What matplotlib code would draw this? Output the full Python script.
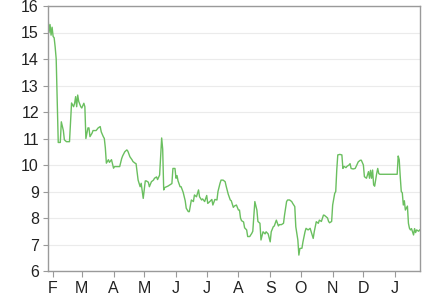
import matplotlib
matplotlib.use("Agg")
import matplotlib.pyplot as plt
import matplotlib.dates as mdates
import numpy as np
import pandas as pd

# days relative to 1 Feb
day_offsets = [
    -5, -4, -3, -2, -1, 0, 1, 2, 3, 4, 5, 7, 8, 10, 11, 13, 16, 18, 20, 21,
    22, 23, 24, 25, 27, 28, 30, 31, 32, 34, 35, 36, 38, 39, 42, 44, 46, 47, 49, 50,
    51, 52, 54, 55, 57, 59, 60, 65, 67, 68, 70, 72, 73, 75, 77, 78, 80, 81, 83, 85,
    86, 88, 90, 91, 93, 94, 96, 98, 99, 101, 102, 104, 106, 107, 108, 109, 112, 114, 116, 117,
    119, 120, 121, 122, 124, 125, 127, 129, 130, 132, 133, 135, 137, 138, 140, 142, 143, 145, 146, 148,
    150, 151, 153, 155, 156, 158, 160, 161, 163, 164, 166, 168, 169, 171, 173, 174, 176, 177, 179, 181,
    182, 183, 184, 186, 187, 189, 190, 192, 194, 195, 197, 199, 200, 202, 203, 205, 207, 208, 210, 212,
    213, 215, 216, 218, 220, 221, 223, 225, 226, 228, 229, 231, 233, 234, 236, 237, 239, 240, 241, 243,
    244, 246, 247, 249, 251, 252, 254, 255, 257, 259, 260, 262, 264, 265, 268, 269, 270, 272, 273, 275,
    276, 277, 278, 280, 282, 283, 284, 286, 287, 289, 290, 291, 293, 295, 296, 298, 300, 301, 303, 304,
    306, 308, 309, 310, 311, 312, 313, 314, 316, 317, 318, 319, 336, 337, 338, 339, 340, 341, 342, 343,
    344, 346, 347, 348, 349, 350, 352, 353, 354, 355, 357, 358,
]
values = [
    15.6, 15.0, 15.3, 14.9, 15.2, 14.85, 14.8, 14.45, 14.0, 12.4, 10.85, 10.85, 11.63, 11.3, 10.95, 10.88, 10.88, 12.34, 12.2, 12.33,
    12.58, 12.2, 12.64, 12.4, 12.2, 12.15, 12.33, 12.2, 11.0, 11.4, 11.4, 11.07, 11.2, 11.3, 11.3, 11.4, 11.45, 11.25, 11.07, 11.0,
    10.64, 10.07, 10.2, 10.1, 10.2, 9.88, 9.94, 9.94, 10.25, 10.35, 10.5, 10.57, 10.52, 10.31, 10.2, 10.13, 10.07, 10.05, 9.43, 9.18,
    9.31, 8.74, 9.4, 9.4, 9.35, 9.18, 9.37, 9.43, 9.5, 9.55, 9.45, 9.62, 11.02, 10.6, 9.06, 9.15, 9.2, 9.25, 9.3, 9.87,
    9.87, 9.5, 9.6, 9.4, 9.18, 9.18, 8.97, 8.65, 8.37, 8.24, 8.24, 8.68, 8.62, 8.87, 8.8, 9.06, 8.8, 8.68, 8.72, 8.62,
    8.85, 8.55, 8.62, 8.7, 8.49, 8.7, 8.68, 9.0, 9.31, 9.43, 9.43, 9.37, 9.2, 8.9, 8.68, 8.65, 8.4, 8.45, 8.49, 8.3,
    8.3, 8.0, 7.9, 7.85, 7.63, 7.55, 7.3, 7.3, 7.42, 7.5, 8.62, 8.3, 7.87, 7.8, 7.17, 7.48, 7.4, 7.48, 7.4, 7.1,
    7.48, 7.67, 7.7, 7.92, 7.7, 7.75, 7.75, 7.8, 8.11, 8.62, 8.68, 8.68, 8.62, 8.55, 8.43, 7.67, 7.17, 6.6, 6.85, 6.86,
    7.1, 7.48, 7.61, 7.55, 7.61, 7.48, 7.23, 7.48, 7.86, 7.8, 7.92, 7.87, 8.11, 8.1, 8.0, 7.87, 7.82, 7.87, 8.49, 8.93,
    9.0, 9.81, 10.38, 10.4, 10.38, 9.87, 9.95, 9.9, 9.95, 10.0, 10.05, 9.87, 9.85, 9.87, 9.95, 10.12, 10.18, 10.18, 10.0, 9.56,
    9.5, 9.75, 9.5, 9.8, 9.5, 9.81, 9.25, 9.2, 9.68, 9.87, 9.68, 9.65, 9.65, 10.34, 10.2, 9.56, 9.0, 8.95, 8.49, 8.65,
    8.3, 8.45, 7.8, 7.61, 7.55, 7.6, 7.36, 7.6, 7.45, 7.55, 7.5, 7.55,
]
y_ticks = [6, 7, 8, 9, 10, 11, 12, 13, 14, 15, 16]

dates = pd.Timestamp("2013-02-01") + pd.to_timedelta(day_offsets, unit="D")

plt.rcParams["font.family"] = ["Liberation Sans", "DejaVu Sans"]

fig = plt.figure(figsize=(4.33, 2.94), dpi=100)
ax = fig.add_axes([48 / 433, 23 / 294, 371.7 / 433, 265 / 294])

ax.plot(dates, values, color="#6abf5f", linewidth=1.0)

ax.set_ylim(6, 16)
ax.set_yticks(y_ticks)
ax.set_xlim(dates[0], dates[-1])
ax.xaxis.set_major_locator(mdates.MonthLocator())
ax.xaxis.set_major_formatter(
    matplotlib.ticker.FuncFormatter(lambda x, pos: mdates.num2date(x).strftime("%b")[0])
)

ax.grid(axis="y", color="#ebebeb", linewidth=0.8)
ax.set_axisbelow(True)
for side in ["left", "bottom", "top", "right"]:
    ax.spines[side].set_color("#9a9a9a")
    ax.spines[side].set_linewidth(1.0)
ax.tick_params(axis="y", length=3.5, color="#9a9a9a", labelsize=11.5, pad=3, labelcolor="#222222")
ax.tick_params(axis="x", length=4, color="#9a9a9a", labelsize=11.5, pad=3, labelcolor="#222222")

fig.savefig("out.png", dpi=100)
